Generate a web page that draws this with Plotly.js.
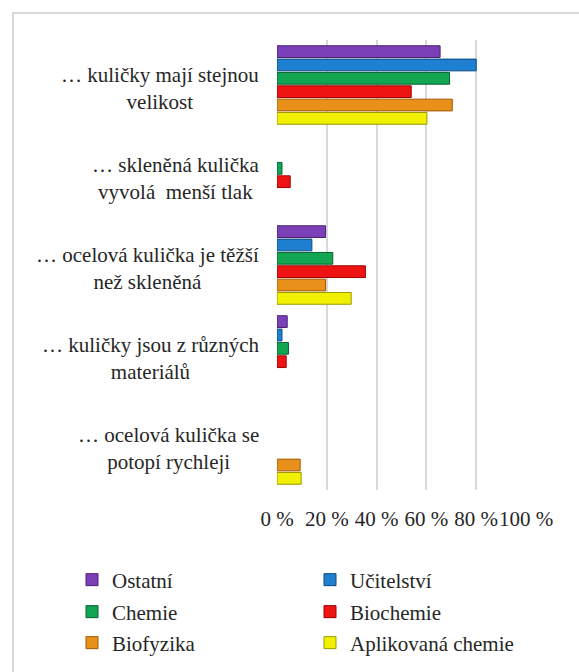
<!DOCTYPE html>
<html>
<head>
<meta charset="utf-8">
<script src="https://cdn.plot.ly/plotly-3.0.1.min.js"></script>
<style>
html,body{margin:0;padding:0;background:#fff;overflow:hidden;}
#frame{position:absolute;left:12px;top:12px;width:700px;height:800px;border-left:2px solid #d9d9d9;border-top:2px solid #d9d9d9;box-sizing:border-box;}
#chart{position:absolute;left:0;top:0;width:579px;height:672px;}
</style>
</head>
<body>
<div id="frame"></div>
<div id="chart"></div>
<script>
var categories = [
  "… kuličky mají stejnou<br>velikost",
  "… skleněná kulička<br>vyvolá  menší tlak",
  "… ocelová kulička je těžší<br>než skleněná",
  "… kuličky jsou z různých<br>materiálů",
  "… ocelová kulička se<br>potopí rychleji"
];
var seriesNames = ["Ostatní", "Učitelství", "Chemie", "Biochemie", "Biofyzika", "Aplikovaná chemie"];
var ostatni    = [65.5, null, 19.5, 4.1, null];
var ucitelstvi = [80.0, null, 14.0, 2.0, null];
var chemie     = [69.3, 2.0,  22.4, 4.6, null];
var biochemie  = [53.9, 5.3,  35.5, 3.7, null];
var biofyzika  = [70.4, null, 19.5, null, 9.3];
var aplikovana = [60.2, null, 29.8, null, 9.7];
var tickValues = [0, 20, 40, 60, 80, 100];
var tickLabels = ["0 %", "20 %", "40 %", "60 %", "80 %", "100 %"];

var seriesValues = [ostatni, ucitelstvi, chemie, biochemie, biofyzika, aplikovana];
var fillColors = ["#7b3fb8", "#1f7fd0", "#12a552", "#ee1414", "#e8901a", "#f0f000"];
var lineColors = ["#4b2270", "#0b4a80", "#0a6030", "#a00000", "#a05a00", "#9a9a00"];

var FONT = "Liberation Serif";
var TXT = "#262626";

// legend slots: two columns, three rows
var legendCols = [72, 310];
var legendRows = [580, 612, 643];

var traces = seriesNames.map(function (name, i) {
  return {
    type: "bar",
    orientation: "h",
    name: name,
    x: seriesValues[i],
    y: categories,
    marker: {color: fillColors[i], line: {color: lineColors[i], width: 1}},
    legend: i === 0 ? "legend" : "legend" + (i + 1),
    hoverinfo: "skip"
  };
});

var annotations = categories.map(function (c) {
  return {
    xref: "paper", yref: "y", x: 0, y: c,
    xanchor: "right", yanchor: "middle", align: "center",
    xshift: -16, yshift: -3,
    text: c, showarrow: false,
    font: {family: FONT, size: 21, color: TXT}
  };
});

function legendAt(xPx, yPx) {
  return {
    orientation: "h",
    xref: "container", yref: "container",
    x: xPx / 579, y: 1 - yPx / 672,
    xanchor: "left", yanchor: "middle",
    font: {family: FONT, size: 21, color: TXT},
    bgcolor: "rgba(0,0,0,0)"
  };
}

var layout = {
  width: 579, height: 672,
  margin: {l: 277, r: 53, t: 40, b: 182},
  paper_bgcolor: "rgba(0,0,0,0)",
  plot_bgcolor: "rgba(0,0,0,0)",
  barmode: "group",
  bargap: 0.11,
  bargroupgap: 0.12,
  font: {family: FONT, size: 21, color: TXT},
  xaxis: {
    range: [0, 100],
    tickmode: "array",
    tickvals: tickValues,
    ticktext: tickLabels,
    tickangle: 0,
    ticklabelstandoff: 14,
    showgrid: true,
    gridcolor: "#d9d9d9",
    gridwidth: 2,
    zeroline: false,
    showline: false,
    ticks: "",
    tickfont: {family: FONT, size: 21, color: TXT},
    fixedrange: true
  },
  yaxis: {
    autorange: "reversed",
    showticklabels: false,
    showgrid: false,
    zeroline: false,
    showline: false,
    ticks: "",
    fixedrange: true
  },
  showlegend: true,
  annotations: annotations
};
seriesNames.forEach(function (n, i) {
  var key = i === 0 ? "legend" : "legend" + (i + 1);
  layout[key] = legendAt(legendCols[i % 2], legendRows[Math.floor(i / 2)]);
});

Plotly.newPlot("chart", traces, layout, {displayModeBar: false, staticPlot: true});
</script>
</body>
</html>
